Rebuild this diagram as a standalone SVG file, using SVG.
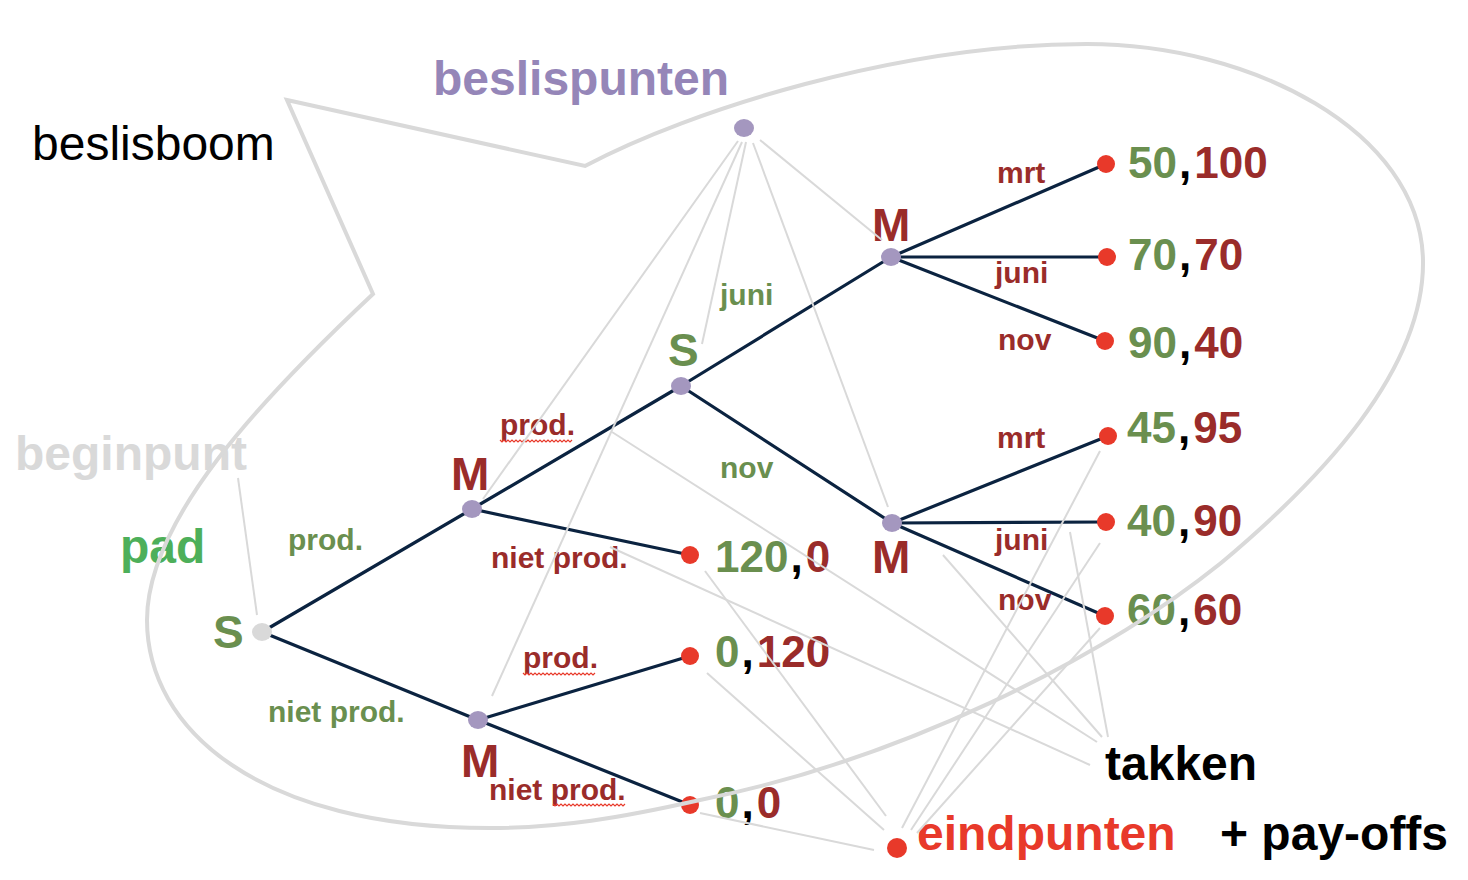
<svg xmlns="http://www.w3.org/2000/svg" width="1468" height="880" viewBox="0 0 1468 880">
<style>
text{font-family:"Liberation Sans",Arial,sans-serif;font-weight:bold}
.big{font-size:46px}
.lg{font-size:48px}
.pay{font-size:44px}
.sm{font-size:30px}
.g{fill:#6a8f4f}
.r{fill:#9a2c2a}
.k{fill:#000}
.edge{stroke:#0b2340;stroke-width:3.2;fill:none;stroke-linecap:round}
.ptr{stroke:#d9d9d9;stroke-width:2;fill:none}
.dec{fill:#a497bf}
.end{fill:#e8392a}
.sq{stroke:#e8392a;stroke-width:1.2;fill:none}
</style>
<defs>
<path id="squig" class="sq" d="M0,0 l2,2 2,-2 2,2 2,-2 2,2 2,-2 2,2 2,-2 2,2 2,-2 2,2 2,-2 2,2 2,-2 2,2 2,-2 2,2 2,-2 2,2 2,-2 2,2 2,-2 2,2 2,-2 2,2 2,-2 2,2 2,-2 2,2 2,-2 2,2 2,-2 2,2 2,-2 2,2 2,-2"/>
</defs>
<rect width="1468" height="880" fill="#fff"/>

<g id="connectors">
<line class="edge" x1="262" y1="632" x2="472" y2="509"/>
<line class="edge" x1="262" y1="632" x2="478" y2="720"/>
<line class="edge" x1="472" y1="509" x2="681" y2="386"/>
<line class="edge" x1="472" y1="509" x2="690" y2="555"/>
<line class="edge" x1="478" y1="720" x2="690" y2="656"/>
<line class="edge" x1="478" y1="720" x2="690" y2="805"/>
<line class="edge" x1="681" y1="386" x2="891" y2="257"/>
<line class="edge" x1="681" y1="386" x2="892" y2="523"/>
<line class="edge" x1="891" y1="257" x2="1106" y2="164"/>
<line class="edge" x1="891" y1="257" x2="1107" y2="257"/>
<line class="edge" x1="891" y1="257" x2="1105" y2="341"/>
<line class="edge" x1="892" y1="523" x2="1108" y2="436"/>
<line class="edge" x1="892" y1="523" x2="1106" y2="522"/>
<line class="edge" x1="892" y1="523" x2="1105" y2="616"/>
</g>

<g id="node-root"><ellipse cx="262" cy="632" rx="10" ry="9" fill="#d9d9d9"/><text class="big g" x="213" y="648">S</text></g>
<g id="node-m1"><ellipse class="dec" cx="472" cy="509" rx="10" ry="9"/><text class="big r" x="451" y="490">M</text></g>
<g id="node-m2"><ellipse class="dec" cx="478" cy="720" rx="10" ry="9"/><text class="big r" x="461" y="777">M</text></g>
<g id="node-s2"><ellipse class="dec" cx="681" cy="386" rx="10" ry="9"/><text class="big g" x="668" y="366">S</text></g>
<g id="node-m3"><ellipse class="dec" cx="891" cy="257" rx="10" ry="9"/><text class="big r" x="872" y="241">M</text></g>
<g id="node-m4"><ellipse class="dec" cx="892" cy="523" rx="10" ry="9"/><text class="big r" x="872" y="573">M</text></g>

<g id="end-1"><circle class="end" cx="1106" cy="164" r="9"/><text class="pay" x="1128" y="178"><tspan class="g">50</tspan><tspan class="k" dx="2">,</tspan><tspan class="r" dx="3">100</tspan></text></g>
<g id="end-2"><circle class="end" cx="1107" cy="257" r="9"/><text class="pay" x="1128" y="270"><tspan class="g">70</tspan><tspan class="k" dx="2">,</tspan><tspan class="r" dx="3">70</tspan></text></g>
<g id="end-3"><circle class="end" cx="1105" cy="341" r="9"/><text class="pay" x="1128" y="358"><tspan class="g">90</tspan><tspan class="k" dx="2">,</tspan><tspan class="r" dx="3">40</tspan></text></g>
<g id="end-4"><circle class="end" cx="1108" cy="436" r="9"/><text class="pay" x="1127" y="443"><tspan class="g">45</tspan><tspan class="k" dx="2">,</tspan><tspan class="r" dx="3">95</tspan></text></g>
<g id="end-5"><circle class="end" cx="1106" cy="522" r="9"/><text class="pay" x="1127" y="536"><tspan class="g">40</tspan><tspan class="k" dx="2">,</tspan><tspan class="r" dx="3">90</tspan></text></g>
<g id="end-6"><circle class="end" cx="1105" cy="616" r="9"/><text class="pay" x="1127" y="625"><tspan class="g">60</tspan><tspan class="k" dx="2">,</tspan><tspan class="r" dx="3">60</tspan></text></g>
<g id="end-7"><circle class="end" cx="690" cy="555" r="9"/><text class="pay" x="715" y="572"><tspan class="g">120</tspan><tspan class="k" dx="2">,</tspan><tspan class="r" dx="3">0</tspan></text></g>
<g id="end-8"><circle class="end" cx="690" cy="656" r="9"/><text class="pay" x="715" y="667"><tspan class="g">0</tspan><tspan class="k" dx="2">,</tspan><tspan class="r" dx="3">120</tspan></text></g>
<g id="end-9"><circle class="end" cx="690" cy="805" r="9"/><text class="pay" x="715" y="818"><tspan class="g">0</tspan><tspan class="k" dx="2">,</tspan><tspan class="r" dx="3">0</tspan></text></g>

<g id="branch-labels">
<text class="sm g" x="288" y="550">prod.</text>
<text class="sm g" x="268" y="722">niet prod.</text>
<text class="sm r" x="500" y="435">prod.</text>
<use href="#squig" x="500" y="440"/>
<text class="sm r" x="491" y="568">niet prod.</text>
<text class="sm r" x="523" y="668">prod.</text>
<use href="#squig" x="523" y="673"/>
<text class="sm r" x="489" y="800">niet prod.</text>
<use href="#squig" x="553" y="804"/>
<text class="sm g" x="720" y="305">juni</text>
<text class="sm g" x="720" y="478">nov</text>
<text class="sm r" x="997" y="183">mrt</text>
<text class="sm r" x="995" y="283">juni</text>
<text class="sm r" x="998" y="350">nov</text>
<text class="sm r" x="997" y="448">mrt</text>
<text class="sm r" x="995" y="550">juni</text>
<text class="sm r" x="998" y="610">nov</text>
</g>

<g id="legend">
<text x="32" y="160" style="font-weight:normal;font-size:48px" class="k">beslisboom</text>
<text class="lg" x="433" y="95" fill="#9586b8">beslispunten</text>
<ellipse class="dec" cx="744" cy="128" rx="10" ry="9"/>
<text class="lg" x="15" y="470" fill="#d9d9d9">beginpunt</text>
<text class="lg" x="120" y="563" fill="#4daf5a">pad</text>
<text class="lg k" x="1105" y="780">takken</text>
<circle class="end" cx="897" cy="848" r="10"/>
<text class="lg" x="917" y="850" fill="#e8392a">eindpunten</text>
<text class="lg k" x="1220" y="850">+ pay-offs</text>
</g>

<g id="pointers">
<line class="ptr" x1="738" y1="141" x2="483" y2="499"/>
<line class="ptr" x1="742" y1="142" x2="492" y2="696"/>
<line class="ptr" x1="746" y1="142" x2="702" y2="344"/>
<line class="ptr" x1="753" y1="143" x2="888" y2="507"/>
<line class="ptr" x1="760" y1="140" x2="882" y2="240"/>
<line class="ptr" x1="238" y1="478" x2="257" y2="615"/>
<line class="ptr" x1="612" y1="432" x2="1097" y2="742"/>
<line class="ptr" x1="610" y1="547" x2="1090" y2="765"/>
<line class="ptr" x1="943" y1="555" x2="1102" y2="737"/>
<line class="ptr" x1="1070" y1="532" x2="1108" y2="737"/>
<line class="ptr" x1="705" y1="571" x2="886" y2="816"/>
<line class="ptr" x1="707" y1="673" x2="884" y2="830"/>
<line class="ptr" x1="700" y1="813" x2="874" y2="850"/>
<line class="ptr" x1="1100" y1="451" x2="902" y2="828"/>
<line class="ptr" x1="1100" y1="543" x2="911" y2="830"/>
<line class="ptr" x1="1100" y1="628" x2="917" y2="833"/>
</g>

<path id="outline" d="M287,100 L585,166 C690,110 900,44 1087,44 C1250,44 1420,130 1423,260 C1425,370 1320,480 1221,563 C1100,660 900,760 700,800 C620,818 560,828 490,828 C260,828 147,730 147,620 C147,520 260,400 373,294 Z" fill="none" stroke="#d9d9d9" stroke-width="4" stroke-linejoin="miter"/>
</svg>
